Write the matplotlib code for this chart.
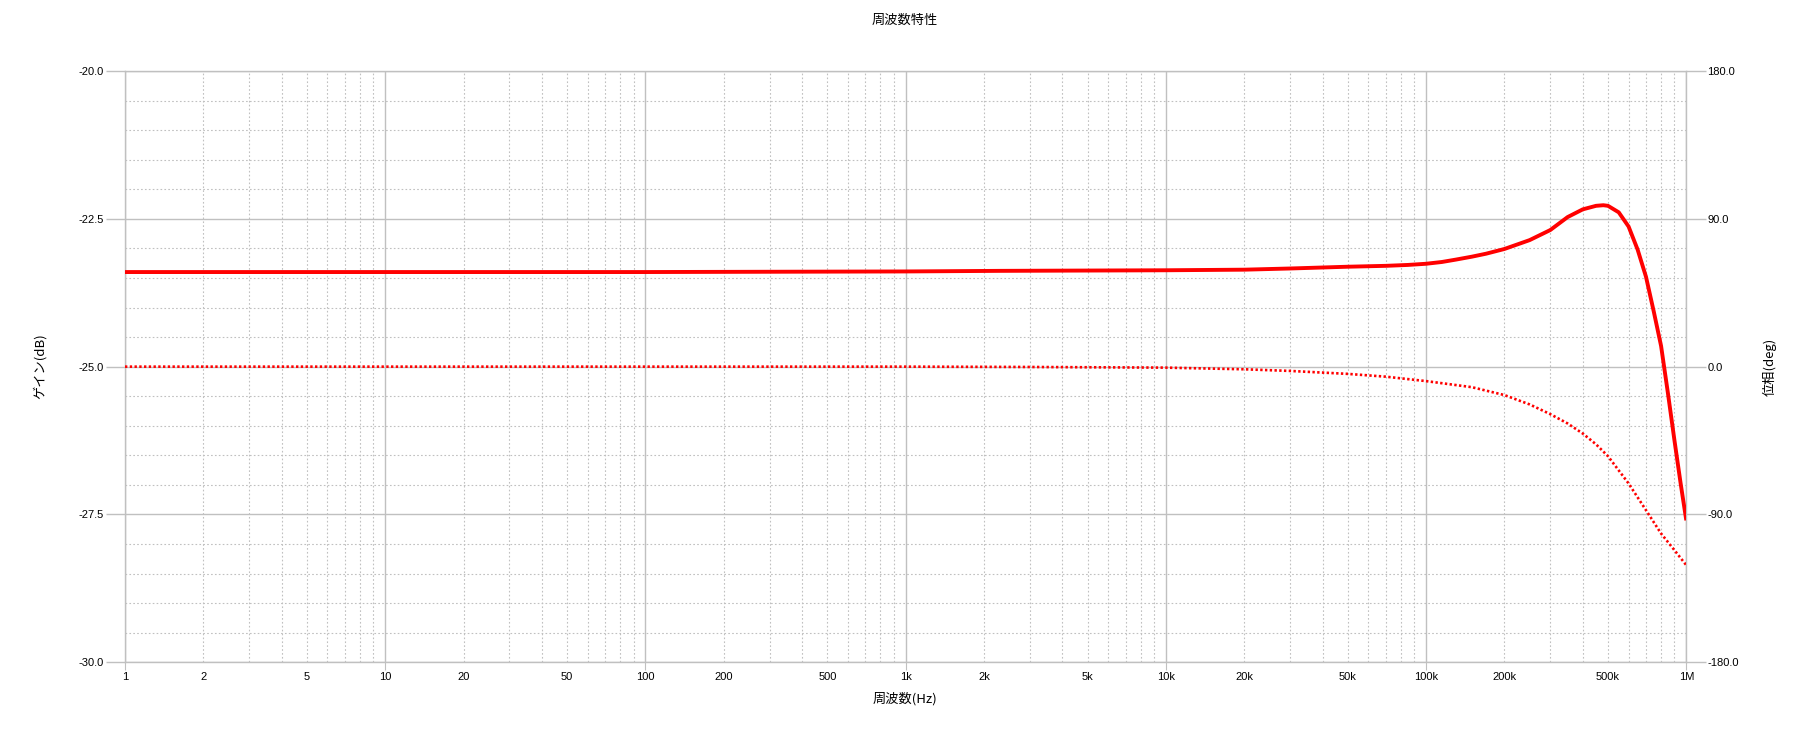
import numpy as np
import matplotlib
matplotlib.use('Agg')
import matplotlib.pyplot as plt
from matplotlib.ticker import FixedLocator, NullFormatter, FixedFormatter

plt.rcParams['font.family'] = ['Liberation Sans', 'DejaVu Sans']
JP = ['Noto Sans CJK JP', 'DejaVu Sans']

# ゲイン (dB) の読み取り値
gain_freq = [1, 2, 5, 10, 100, 1e3, 2.3e3, 1e4, 2e4, 3e4, 5e4, 7e4, 8.5e4, 1e5,
             1.15e5, 1.3e5, 1.5e5, 1.7e5, 2e5, 2.5e5, 3e5, 3.5e5, 4e5, 4.5e5,
             4.8e5, 5e5, 5.5e5, 6e5, 6.5e5, 7e5, 7.5e5, 8e5, 8.5e5, 9e5, 9.5e5, 1e6]
gain_db = [-23.40, -23.40, -23.40, -23.40, -23.40, -23.39, -23.38, -23.37, -23.36,
           -23.34, -23.31, -23.295, -23.28, -23.26, -23.23, -23.19, -23.14, -23.09,
           -23.01, -22.86, -22.69, -22.47, -22.34, -22.28, -22.27, -22.28, -22.39,
           -22.63, -23.02, -23.48, -24.07, -24.65, -25.45, -26.24, -26.96, -27.60]

# 位相 (deg) の読み取り値
phase_freq = [1, 10, 100, 1e3, 3e3, 1e4, 2e4, 3e4, 5e4, 7e4, 1e5, 1.5e5, 2e5,
              2.5e5, 3e5, 3.5e5, 4e5, 4.5e5, 5e5, 6e5, 7e5, 8e5, 9e5, 1e6]
phase_deg = [0.0, 0.0, 0.0, 0.0, -0.2, -0.6, -1.6, -2.6, -4.4, -6.1, -8.8, -12.5,
             -17.3, -23.0, -28.9, -34.6, -40.7, -47.3, -54.5, -71.1, -87.4, -101.6,
             -111.7, -120.9]

x_major = [1, 10, 100, 1e3, 1e4, 1e5, 1e6]
x_major_labels = ['1', '10', '100', '1k', '10k', '100k', '1M']
x_minor = [m * 10 ** d for d in range(6) for m in range(2, 10)]
x_minor_labels = {2: '2', 5: '5', 20: '20', 50: '50', 200: '200', 500: '500',
                  2000: '2k', 5000: '5k', 20000: '20k', 50000: '50k',
                  200000: '200k', 500000: '500k'}

gain_ticks = [-30.0, -27.5, -25.0, -22.5, -20.0]
phase_ticks = [-180.0, -90.0, 0.0, 90.0, 180.0]

GRID = '#c0c0c0'
W, H = 1793, 731

fig = plt.figure(figsize=(W / 100, H / 100), dpi=100)
ax = fig.add_axes([125 / W, 1 - 662.3 / H, (1686.3 - 125) / W, (662.3 - 71) / H])

ax.set_xscale('log')
ax.set_xlim(1, 1e6)
ax.set_ylim(-30, -20)

ax.xaxis.set_major_locator(FixedLocator(x_major))
ax.xaxis.set_major_formatter(FixedFormatter(x_major_labels))
ax.xaxis.set_minor_locator(FixedLocator(x_minor))
ax.xaxis.set_minor_formatter(FixedFormatter([x_minor_labels.get(int(round(v)), '') for v in x_minor]))

ax.yaxis.set_major_locator(FixedLocator(gain_ticks))
ax.set_yticklabels([f'{v:.1f}' for v in gain_ticks])
ax.yaxis.set_minor_locator(FixedLocator(np.arange(-30, -19.9, 0.5)))
ax.yaxis.set_minor_formatter(NullFormatter())

ax.grid(True, which='major', color=GRID, linewidth=1.0, linestyle='-')
ax.grid(True, which='minor', color=GRID, linewidth=0.8, linestyle=(0, (1.5, 2.0)))
ax.set_axisbelow(True)

ax.tick_params(axis='x', which='major', length=5.8, width=0.8, color=GRID, pad=1.0, labelsize=8)
ax.tick_params(axis='x', which='minor', length=0, pad=6.8, labelsize=8)
ax.tick_params(axis='y', which='major', length=13.7, width=1.0, color=GRID, pad=1.4, labelsize=8)
ax.tick_params(axis='y', which='minor', length=0)

for s in ax.spines.values():
    s.set_color(GRID)
    s.set_linewidth(1.0)

ax.plot(gain_freq, gain_db, color='#ff0000', linewidth=2.8, solid_capstyle='butt',
        solid_joinstyle='round', zorder=3)

ax2 = ax.twinx()
ax2.set_ylim(-180, 180)
ax2.yaxis.set_major_locator(FixedLocator(phase_ticks))
ax2.set_yticklabels([f'{v:.1f}' for v in phase_ticks])
ax2.tick_params(axis='y', length=14.2, width=1.0, color=GRID, pad=1.0, labelsize=8)
for s in ax2.spines.values():
    s.set_visible(False)
ax2.plot(phase_freq, phase_deg, color='#ff0000', linewidth=1.9,
         linestyle=(0, (0.9, 0.9)), zorder=3)

fig.text(905 / W, 1 - 20.5 / H, '周波数特性', ha='center', va='center', fontsize=9.5, family=JP)
fig.text(905 / W, 1 - 699 / H, '周波数(Hz)', ha='center', va='center', fontsize=9.5, family=JP)
fig.text(39.5 / W, 1 - 366.5 / H, 'ゲイン(dB)', ha='center', va='center', rotation=90,
         fontsize=9.5, family=JP)
fig.text(1769.7 / W, 1 - 366.5 / H, '位相(deg)', ha='center', va='center', rotation=90,
         fontsize=9.5, family=JP)

fig.savefig('out.png', dpi=100)
